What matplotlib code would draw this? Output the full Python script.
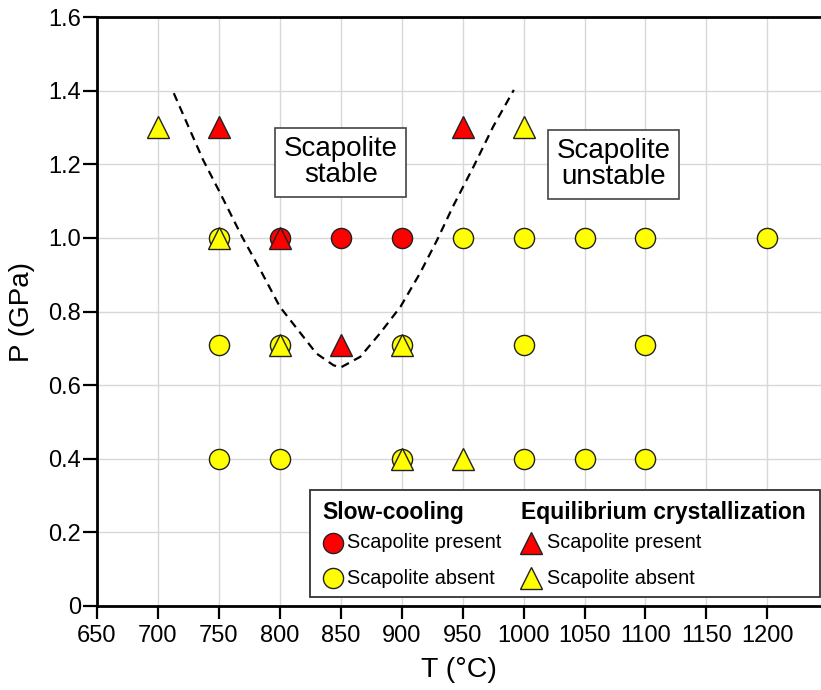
import matplotlib
matplotlib.use("Agg")
import matplotlib.pyplot as plt
from matplotlib.patches import Rectangle

plt.rcParams['font.family'] = ['Liberation Sans', 'DejaVu Sans']

# Slow-cooling runs (circles)
slow_present_T = [800, 850, 900]
slow_present_P = [1.0, 1.0, 1.0]
slow_absent_T = [750, 950, 1000, 1050, 1100, 1200,
                 750, 800, 900, 1000, 1100,
                 750, 800, 900, 1000, 1050, 1100]
slow_absent_P = [1.0, 1.0, 1.0, 1.0, 1.0, 1.0,
                 0.71, 0.71, 0.71, 0.71, 0.71,
                 0.4, 0.4, 0.4, 0.4, 0.4, 0.4]

# Equilibrium crystallization runs (triangles)
eq_present_T = [750, 950, 800, 850]
eq_present_P = [1.3, 1.3, 1.0, 0.71]
eq_absent_T = [700, 1000, 750, 800, 900, 900, 950]
eq_absent_P = [1.3, 1.3, 1.0, 0.71, 0.71, 0.4, 0.4]

# Stability boundary (dashed)
curve_T = [713, 737, 751, 769, 784, 800, 817, 830, 844, 850,
           866, 882, 899, 915, 929, 942, 959, 975, 992]
curve_P = [1.393, 1.212, 1.122, 1.003, 0.913, 0.813, 0.741, 0.686, 0.654, 0.648,
           0.677, 0.740, 0.813, 0.904, 0.994, 1.085, 1.194, 1.302, 1.402]

x_ticks = list(range(650, 1201, 50))
y_ticks = [0, 0.2, 0.4, 0.6, 0.8, 1.0, 1.2, 1.4, 1.6]
y_labels = ['0', '0.2', '0.4', '0.6', '0.8', '1.0', '1.2', '1.4', '1.6']

RED = '#ff0000'
YEL = '#ffff00'
EDGE = '#222222'

fig = plt.figure(figsize=(8.21, 6.9), dpi=100)
ax = fig.add_axes([97 / 821, 1 - 606 / 690, 1 - 97 / 821, (606 - 17) / 690])

ax.set_xlim(650, 1244)
ax.set_ylim(0, 1.6)
ax.set_xticks(x_ticks)
ax.set_yticks(y_ticks)
ax.set_yticklabels(y_labels)
ax.grid(True, color='#d8d8d8', lw=1.0, zorder=0)
ax.set_axisbelow(True)
ax.tick_params(labelsize=17, width=1.6, direction='out', colors='black')
ax.tick_params(axis='y', length=10, pad=1.5)
ax.tick_params(axis='x', length=9, pad=5)
for side in ['left', 'bottom', 'top']:
    ax.spines[side].set_linewidth(2)
ax.spines['right'].set_visible(False)

ax.set_xlabel('T (°C)', fontsize=20.5)
ax.set_ylabel('P (GPa)', fontsize=20)
ax.xaxis.set_label_coords(0.5, -0.087)
ax.yaxis.set_label_coords(-0.085, 0.5)

line, = ax.plot(curve_T, curve_P, color='black', lw=1.6, ls='--', zorder=2)
line.set_dashes((3.8, 2.6))

mk = dict(ls='none', markeredgecolor=EDGE, markeredgewidth=1.0, zorder=3)
ax.plot(slow_absent_T, slow_absent_P, marker='o', ms=14.5, markerfacecolor=YEL, **mk)
ax.plot(slow_present_T, slow_present_P, marker='o', ms=14.5, markerfacecolor=RED, **mk)
ax.plot(eq_absent_T, eq_absent_P, marker='^', ms=15.5, markerfacecolor=YEL, **mk)
ax.plot(eq_present_T, eq_present_P, marker='^', ms=15.5, markerfacecolor=RED, **mk)

box = dict(boxstyle='square,pad=0.3', fc='white', ec='#444444', lw=1.2)
ax.text(850, 1.205, 'Scapolite\nstable', fontsize=20, ha='center', va='center',
        linespacing=1.0, bbox=box, zorder=4)
ax.text(1074, 1.2, 'Scapolite\nunstable', fontsize=20, ha='center', va='center',
        linespacing=1.0, bbox=box, zorder=4)

# legend panel in axes coordinates
tr = ax.transAxes
def ax_x(px):
    return (px - 97) / 724
def ax_y(py):
    return (606 - py) / 589

ax.add_patch(Rectangle((ax_x(310), ax_y(597)), ax_x(820) - ax_x(310), ax_y(490) - ax_y(597),
                       transform=tr, fc='white', ec='#333333', lw=1.3, zorder=5, clip_on=False))
ax.text(ax_x(322), ax_y(512), 'Slow-cooling', transform=tr, fontsize=16.5, fontweight='bold',
        va='center', ha='left', zorder=6)
ax.text(ax_x(521), ax_y(512), 'Equilibrium crystallization', transform=tr, fontsize=16.5,
        fontweight='bold', va='center', ha='left', zorder=6)
rows = [(543, RED, 'Scapolite present'), (578, YEL, 'Scapolite absent')]
for py, col, lab in rows:
    ax.plot([ax_x(333)], [ax_y(py)], marker='o', ms=14.5, markerfacecolor=col,
            transform=tr, clip_on=False, **{**mk, 'zorder': 6})
    ax.text(ax_x(347), ax_y(py), lab, transform=tr, fontsize=14.3, va='center', ha='left', zorder=6)
    ax.plot([ax_x(531)], [ax_y(py)], marker='^', ms=15.5, markerfacecolor=col,
            transform=tr, clip_on=False, **{**mk, 'zorder': 6})
    ax.text(ax_x(547), ax_y(py), lab, transform=tr, fontsize=14.3, va='center', ha='left', zorder=6)

fig.savefig('out.png', dpi=100, facecolor='white')
